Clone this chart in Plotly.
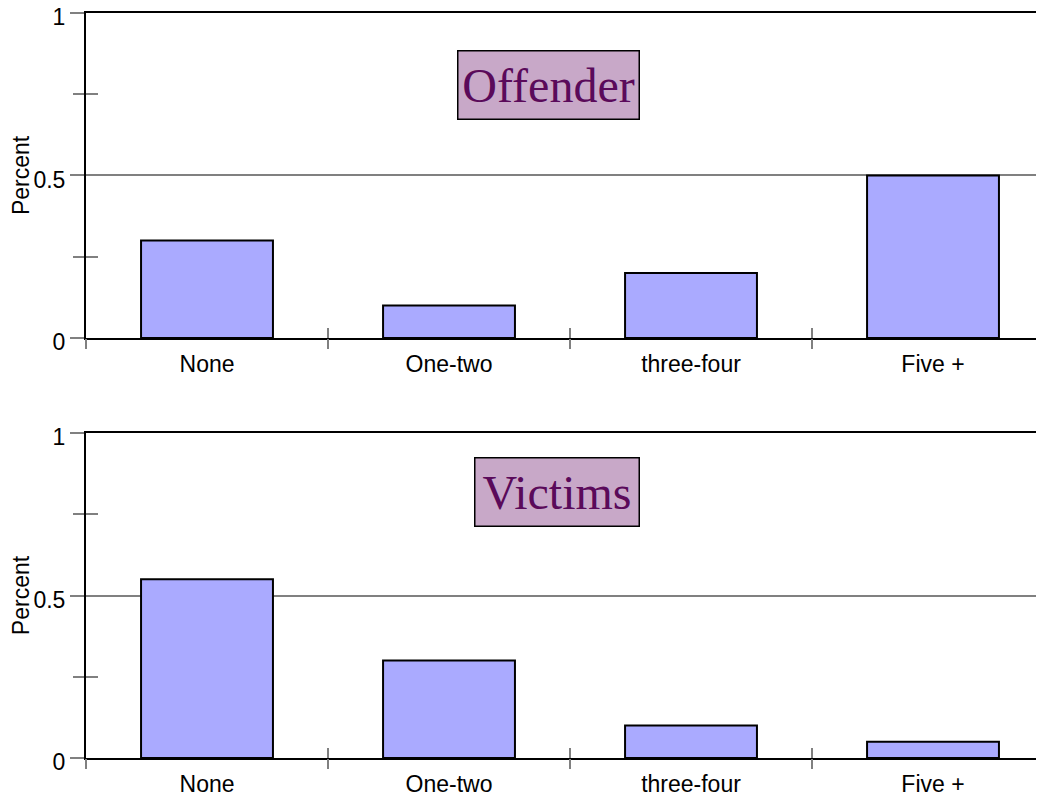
import plotly.graph_objects as go

categories = ["None", "One-two", "three-four", "Five +"]
offender_values = [0.30, 0.10, 0.20, 0.50]
victim_values = [0.55, 0.30, 0.10, 0.05]
panel_titles = ["Offender", "Victims"]

BAR_COLOR = "#aaaaff"
TICK_GREY = "#808080"
FONT = "Liberation Sans, Arial, sans-serif"

fig = go.Figure()

fig.add_trace(go.Bar(x=categories, y=offender_values, xaxis="x", yaxis="y",
                     marker=dict(color=BAR_COLOR, line=dict(color="black", width=2)),
                     width=0.545, showlegend=False, hoverinfo="x+y"))
fig.add_trace(go.Bar(x=categories, y=victim_values, xaxis="x2", yaxis="y2",
                     marker=dict(color=BAR_COLOR, line=dict(color="black", width=2)),
                     width=0.545, showlegend=False, hoverinfo="x+y"))

# invisible traces so that the tick-only overlay axes get drawn
for xa, ya in [("x3", "y"), ("x4", "y"), ("x5", "y2"), ("x6", "y2"), ("x", "y3"), ("x2", "y4")]:
    fig.add_trace(go.Scatter(x=[None], y=[None], xaxis=xa, yaxis=ya, mode="markers",
                             showlegend=False, hoverinfo="skip"))

n = len(categories)
boundaries = [i - 0.5 for i in range(n)]
xrange_ = [-0.5, n - 0.5]

main_x = dict(type="category", range=xrange_, showline=True, linecolor="black", linewidth=2,
              mirror=True, ticks="", showgrid=False, zeroline=False, automargin=False,
              tickfont=dict(family=FONT, size=23, color="black"), ticklabelstandoff=4)
main_y = dict(range=[0, 1], showline=True, linecolor="black", linewidth=2,
              tickvals=[0, 0.5, 1], ticktext=["0", "0.5", "1"],
              ticks="outside", ticklen=14, tickwidth=2, tickcolor=TICK_GREY,
              showgrid=True, gridcolor=TICK_GREY, gridwidth=1.5, zeroline=False, automargin=False,
              minor=dict(tickvals=[0.25, 0.75], ticks="outside", ticklen=11, tickwidth=2,
                         tickcolor=TICK_GREY, showgrid=False),
              tickfont=dict(family=FONT, size=23, color="black"), ticklabelstandoff=0,
              ticklabelshift=4, ticklabeloverflow="allow",
              title=dict(text="Percent", font=dict(family=FONT, size=23, color="black"), standoff=6))

def tick_x(overlay, anchor, direction):
    return dict(overlaying=overlay, anchor=anchor, range=xrange_, tickvals=boundaries,
                ticks=direction, ticklen=10, tickwidth=2, tickcolor=TICK_GREY, automargin=False,
                showticklabels=False, showgrid=False, zeroline=False, showline=False)

def tick_y(overlay, anchor):
    return dict(overlaying=overlay, anchor=anchor, side="left", range=[0, 1],
                tickvals=[0, 0.25, 0.75, 1],
                ticks="inside", ticklen=12, tickwidth=2, tickcolor=TICK_GREY, automargin=False,
                showticklabels=False, showgrid=False, zeroline=False, showline=False)

top_dom = [0.5638, 1.0]
bot_dom = [0.0, 0.4362]

fig.update_layout(
    width=1046, height=801,
    margin=dict(l=78, r=0, t=5, b=51),
    paper_bgcolor="white", plot_bgcolor="white",
    bargap=0.45,
    xaxis=dict(**main_x, domain=[0, 1], anchor="y"),
    yaxis=dict(**main_y, domain=top_dom, anchor="x"),
    xaxis2=dict(**main_x, domain=[0, 1], anchor="y2"),
    yaxis2=dict(**main_y, domain=bot_dom, anchor="x2"),
    xaxis3=tick_x("x", "y", "outside"),
    xaxis4=tick_x("x", "y", "inside"),
    xaxis5=tick_x("x2", "y2", "outside"),
    xaxis6=tick_x("x2", "y2", "inside"),
    yaxis3=tick_y("y", "x"),
    yaxis4=tick_y("y2", "x2"),
)

ann_specs = [("x domain", "y domain", 0.886, 178), ("x2 domain", "y2 domain", 0.926, 161)]
for title, (xr, yr, ytop, w) in zip(panel_titles, ann_specs):
    fig.add_annotation(text=title, xref=xr, yref=yr, x=0.5723, y=ytop,
                       xanchor="right", yanchor="top", showarrow=False,
                       width=w, height=65, align="center", valign="middle",
                       font=dict(family="Liberation Serif, Times New Roman, serif", size=48, color="#5a0a5a"),
                       bgcolor="#c8a8c8", bordercolor="black", borderwidth=1.5, borderpad=1)

fig.write_html("out.html")
